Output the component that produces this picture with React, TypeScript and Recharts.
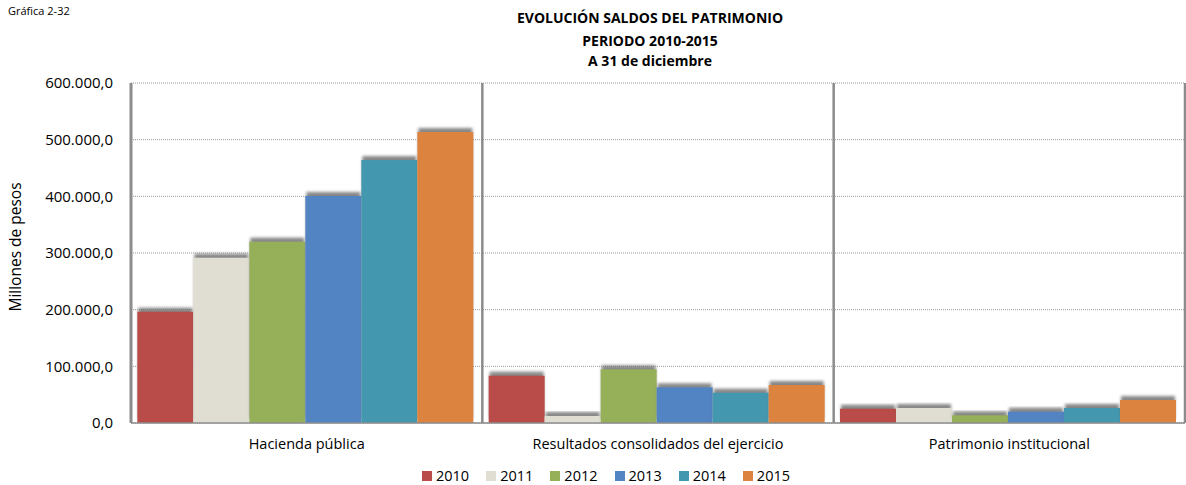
import { Bar, BarChart, CartesianGrid, XAxis, YAxis } from "recharts";

// Saldos del patrimonio 2010-2015, millones de pesos
const categories = [
  "Hacienda pública",
  "Resultados consolidados del ejercicio",
  "Patrimonio institucional",
];
const years = ["2010", "2011", "2012", "2013", "2014", "2015"];
const v2010 = [196400, 83500, 25200];
const v2011 = [291700, 12400, 26500];
const v2012 = [320000, 94700, 13600];
const v2013 = [400600, 63000, 20000];
const v2014 = [464000, 53500, 26500];
const v2015 = [513500, 67000, 40600];
const yTicks = [0, 100000, 200000, 300000, 400000, 500000, 600000];

const series = [v2010, v2011, v2012, v2013, v2014, v2015];
const COLORS = ["#B94B48", "#E0DED3", "#96B05A", "#5283C3", "#4397AE", "#DC843F"];
const FONT = "'Open Sans', 'Noto Sans', sans-serif";
const GRID = "#8c8c8c";

const data = categories.map((name, i) => {
  const row: Record<string, string | number> = { name };
  years.forEach((y, k) => (row[y] = series[k][i]));
  return row;
});

function fmt(n: number): string {
  return String(n).replace(/\B(?=(\d{3})+(?!\d))/g, ".") + ",0";
}

// barra con la sombra gris difusa encima, como en el original
function ShadowBar(props: any) {
  const { x, y, width, height, fill } = props;
  if (height == null || height <= 0) return null;
  return (
    <g>
      <rect x={x + 1} y={y - 4} width={width - 2} height={height} fill="#6a6a6a" opacity={0.8} filter="url(#barBlur)" />
      <rect x={x} y={y} width={width} height={height} fill={fill} />
    </g>
  );
}

export default function App() {
  return (
    <div style={{ position: "absolute", left: 0, top: 0, width: 1186, height: 485, background: "#fff", fontFamily: FONT }}>
      <svg width={0} height={0} style={{ position: "absolute" }}>
        <defs>
          <filter id="barBlur" x="-10%" y="-10%" width="120%" height="120%">
            <feGaussianBlur stdDeviation="1.5" />
          </filter>
        </defs>
      </svg>
      <div style={{ position: "absolute", left: 8, top: 3, fontSize: 11 }}>Gráfica 2-32</div>
      <div style={{ position: "absolute", left: 450, width: 400, top: 6, textAlign: "center", fontSize: 14, fontWeight: 700 }}>
        <div style={{ height: 23, lineHeight: "23px" }}>EVOLUCIÓN SALDOS DEL PATRIMONIO</div>
        <div style={{ height: 21, lineHeight: "23px" }}>PERIODO 2010-2015</div>
        <div style={{ height: 21, lineHeight: "21px" }}>A 31 de diciembre</div>
      </div>
      <BarChart
        width={1186}
        height={485}
        data={data}
        margin={{ top: 83, right: 1, left: 0, bottom: 0 }}
        barCategoryGap="1.8%"
        barGap={0}
      >
        <CartesianGrid vertical={false} stroke="#9a9a9a" strokeDasharray="1 1" />
        <CartesianGrid
          horizontal={false}
          stroke={GRID}
          strokeWidth={2.5}
          verticalCoordinatesGenerator={({ offset }: any) =>
            categories.map((_, i) => offset.left + ((i + 1) * offset.width) / categories.length)
          }
        />
        <XAxis
          dataKey="name"
          height={62}
          tickLine={false}
          axisLine={{ stroke: GRID, strokeWidth: 1.5 }}
          tick={{ fontSize: 14.5, fill: "#000", fontFamily: FONT }}
          tickMargin={10}
          interval={0}
        />
        <YAxis
          width={131}
          domain={[0, 600000]}
          ticks={yTicks}
          tickFormatter={fmt}
          tickLine={false}
          axisLine={{ stroke: GRID, strokeWidth: 3 }}
          tick={{ fontSize: 15, fill: "#000", fontFamily: FONT }}
          tickMargin={12}
          label={{
            content: () => (
              <text x={17} y={247} transform="rotate(-90 17 247)" textAnchor="middle" dominantBaseline="middle" fontSize={15.5} fontFamily={FONT} fill="#000">
                Millones de pesos
              </text>
            ),
          }}
        />
        {years.map((y, k) => (
          <Bar key={y} dataKey={y} fill={COLORS[k]} shape={ShadowBar} isAnimationActive={false} />
        ))}
      </BarChart>
      <div style={{ position: "absolute", top: 466, left: 422, display: "flex", gap: 17, fontSize: 14.5 }}>
        {years.map((y, k) => (
          <div key={y} style={{ display: "flex", alignItems: "center", gap: 4 }}>
            <span style={{ width: 10, height: 10, background: COLORS[k], display: "inline-block" }} />
            <span>{y}</span>
          </div>
        ))}
      </div>
    </div>
  );
}
